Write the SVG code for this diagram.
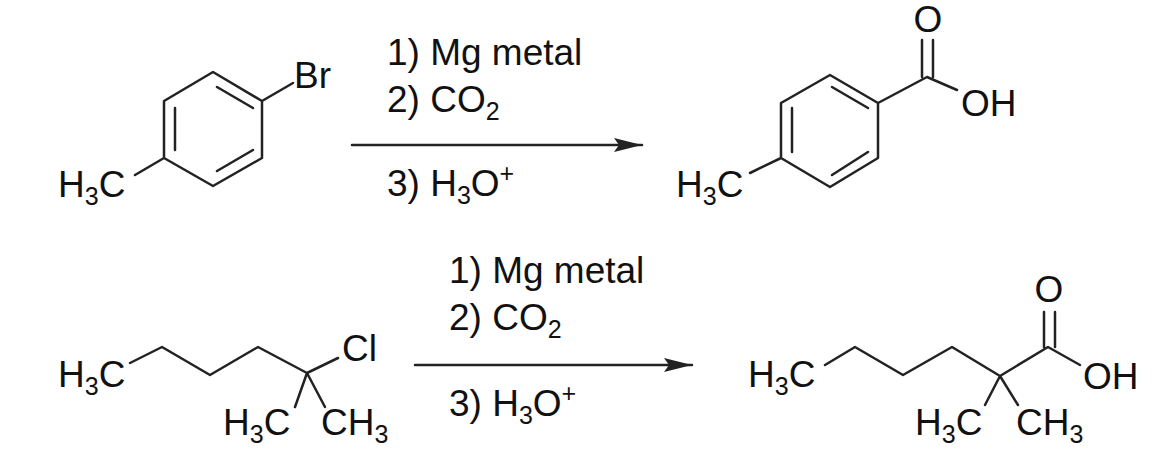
<svg xmlns="http://www.w3.org/2000/svg" width="1160" height="472" viewBox="0 0 1160 472">
<style>
.b{stroke:#222;stroke-width:2.5;fill:none;stroke-linecap:round;stroke-linejoin:round}
text{font-family:"Liberation Sans",Arial,sans-serif;font-size:37px;fill:#111}
.s{font-size:25px}
</style>
<defs><marker id="ah" viewBox="0 0 28 14" refX="28" refY="7" markerWidth="28" markerHeight="14" markerUnits="userSpaceOnUse" orient="auto"><path d="M0,0L28,7L0,14L5,7Z" fill="#222"/></marker></defs>
<rect width="1160" height="472" fill="#fff"/>
<g id="m1">
<path class="b" d="M213,72L262,101L262,158L213,186L164,158L164,101Z M262,101L293,83 M164,158L135,175 M175,108L175,150 M217,87L253,108 M253,150L217,171"/>
<text x="294" y="88">Br</text>
<text x="58" y="197">H<tspan class="s" dy="8">3</tspan><tspan dy="-8">C</tspan></text>
</g>
<g id="m2">
<path class="b" d="M830,75L878,103L878,158L830,187L781,158L781,103Z M878,103L927,77 M927,77L957,90 M922,77L922,40 M933,77L933,40 M781,158L750,173 M792,108L792,152 M832,87L868,108 M868,152L832,175"/>
<text x="928" y="32" text-anchor="middle">O</text>
<text x="961" y="116">OH</text>
<text x="676" y="197">H<tspan class="s" dy="8">3</tspan><tspan dy="-8">C</tspan></text>
</g>
<g id="m3">
<path class="b" d="M130,363L162,347L210,375L258,347L307,373L338,358 M307,373L295,407 M307,373L325,407"/>
<text x="58" y="387">H<tspan class="s" dy="8">3</tspan><tspan dy="-8">C</tspan></text>
<text x="342" y="361">Cl</text>
<text x="223" y="435">H<tspan class="s" dy="8">3</tspan><tspan dy="-8">C</tspan></text>
<text x="321" y="435">CH<tspan class="s" dy="8">3</tspan></text>
</g>
<g id="m4">
<path class="b" d="M825,365L855,347L903,375L952,347L1000,376L1048,347L1080,365 M1000,376L985,405 M1000,376L1018,405 M1044,347L1044,312 M1055,347L1055,312"/>
<text x="748" y="387">H<tspan class="s" dy="8">3</tspan><tspan dy="-8">C</tspan></text>
<text x="1049" y="302" text-anchor="middle">O</text>
<text x="1083" y="389">OH</text>
<text x="915" y="435">H<tspan class="s" dy="8">3</tspan><tspan dy="-8">C</tspan></text>
<text x="1016" y="435">CH<tspan class="s" dy="8">3</tspan></text>
</g>
<g id="connectors">
<line class="b" x1="352" y1="145" x2="642" y2="145" marker-end="url(#ah)"/>
<line class="b" x1="415" y1="365" x2="692" y2="365" marker-end="url(#ah)"/>
</g>
<g id="r1">
<text x="387" y="65">1) Mg metal</text>
<text x="387" y="112">2) CO<tspan class="s" dy="8">2</tspan></text>
<text x="387" y="196">3) H<tspan class="s" dy="8">3</tspan><tspan dy="-8">O</tspan><tspan class="s" dy="-14">+</tspan></text>
</g>
<g id="r2">
<text x="449" y="283">1) Mg metal</text>
<text x="449" y="330">2) CO<tspan class="s" dy="8">2</tspan></text>
<text x="449" y="416">3) H<tspan class="s" dy="8">3</tspan><tspan dy="-8">O</tspan><tspan class="s" dy="-14">+</tspan></text>
</g>
</svg>
